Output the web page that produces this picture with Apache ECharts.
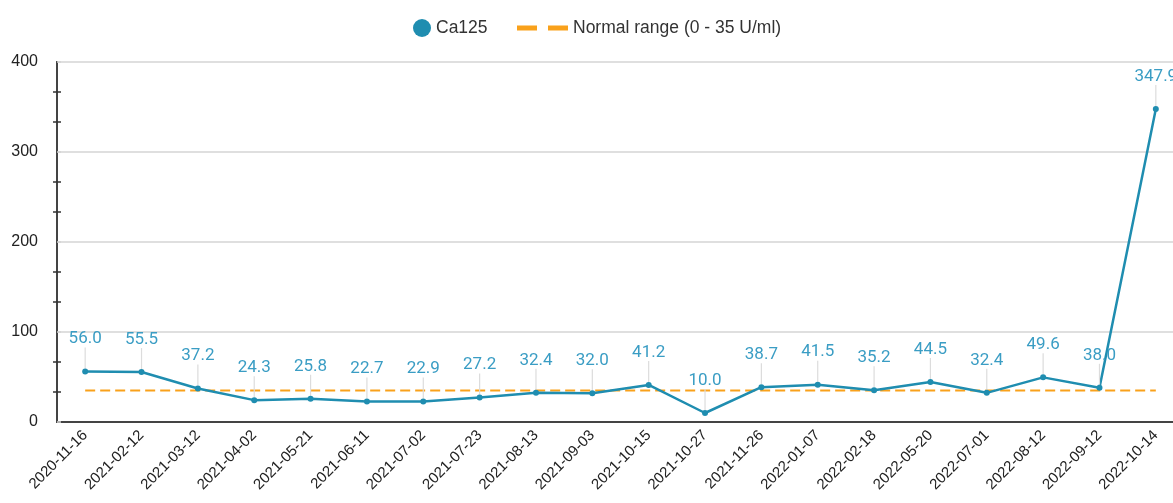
<!DOCTYPE html>
<html>
<head>
<meta charset="utf-8">
<script src="https://cdn.jsdelivr.net/npm/echarts@6/dist/echarts.min.js"></script>
<style>html,body{margin:0;padding:0;background:#fff;}#chart{width:1173px;height:503px;}</style>
</head>
<body>
<div id="chart"></div>
<script>
const categories = ['2020-11-16','2021-02-12','2021-03-12','2021-04-02','2021-05-21','2021-06-11','2021-07-02','2021-07-23','2021-08-13','2021-09-03','2021-10-15','2021-10-27','2021-11-26','2022-01-07','2022-02-18','2022-05-20','2022-07-01','2022-08-12','2022-09-12','2022-10-14'];
const ca125 = [56.0,55.5,37.2,24.3,25.8,22.7,22.9,27.2,32.4,32.0,41.2,10.0,38.7,41.5,35.2,44.5,32.4,49.6,38.0,347.9];
const normalRange = [35,35,35,35,35,35,35,35,35,35,35,35,35,35,35,35,35,35,35,35];
const yTicks = {min: 0, max: 400, interval: 100};

const chart = echarts.init(document.getElementById('chart'));
const TEAL = '#1f8db0';
const ORANGE = '#f9a11b';
const GRID_W = 1127;
const yBase = {
  type: 'value', min: yTicks.min, max: yTicks.max, interval: yTicks.interval,
};
chart.setOption({
  animation: false,
  legend: [
    {data: [{name: 'Ca125', icon: 'circle'}], left: 408, top: 14, itemWidth: 18, itemHeight: 18, itemGap: 12,
     textStyle: {fontFamily: 'Liberation Sans, Arial', fontSize: 17.5, color: '#333'}},
    {data: [{name: 'Normal range (0 - 35 U/ml)', icon: 'path://M0,0h20v5h-20z M31,0h20v5h-20z'}], left: 512, top: 14, itemWidth: 51, itemHeight: 18, itemGap: 12,
     textStyle: {fontFamily: 'Liberation Sans, Arial', fontSize: 17.5, color: '#333'}}
  ],
  grid: {left: 57, top: 62, bottom: 81, width: GRID_W, containLabel: false, outerBoundsMode: 'none'},
  xAxis: {
    type: 'category', data: categories, boundaryGap: true,
    axisLine: {show: true, lineStyle: {color: '#444', width: 2}},
    axisTick: {show: false},
    axisLabel: {rotate: 45, interval: 0, margin: 11, fontFamily: 'Liberation Sans, Arial', fontSize: 15, color: '#222'}
  },
  yAxis: [
    Object.assign({}, yBase, {
      axisLine: {show: true, lineStyle: {color: '#444', width: 2}},
      axisTick: {show: false},
      minorTick: {show: true, splitNumber: 3, length: 4, lineStyle: {color: '#333', width: 1.5}},
      axisLabel: {margin: 19, fontFamily: 'Liberation Sans, Arial', fontSize: 16, color: '#222'},
      splitLine: {show: true, lineStyle: {color: '#d4d4d4', width: 1.5}}
    }),
    Object.assign({}, yBase, {
      position: 'left', offset: 0,
      axisLine: {show: true, onZero: false, lineStyle: {color: '#444', width: 2}},
      axisTick: {show: true, inside: true, length: 4, lineStyle: {color: '#d4d4d4', width: 1.5}},
      minorTick: {show: true, inside: true, splitNumber: 3, length: 4, lineStyle: {color: '#333', width: 1.5}},
      axisLabel: {show: false, inside: true}, splitLine: {show: false}
    })
  ],
  series: [
    {
      name: 'Normal range (0 - 35 U/ml)', type: 'line', data: normalRange, yAxisIndex: 1,
      symbol: 'none', itemStyle: {color: ORANGE},
      lineStyle: {color: ORANGE, width: 2, type: [10, 5]}, z: 1
    },
    {
      name: 'Ca125', type: 'line', data: ca125, yAxisIndex: 0,
      symbol: 'circle', symbolSize: 6,
      itemStyle: {color: TEAL}, lineStyle: {color: TEAL, width: 2.5}, z: 3,
      label: {show: true, position: 'top', distance: 3, formatter: p => p.value.toFixed(1),
        fontFamily: 'Roboto', fontSize: 17, color: '#3a9dc4'},
      labelLayout: {dy: -18},
      labelLine: {show: true, lineStyle: {color: '#dcdcdc', width: 1.2}}
    }
  ]
});
</script>
</body>
</html>
